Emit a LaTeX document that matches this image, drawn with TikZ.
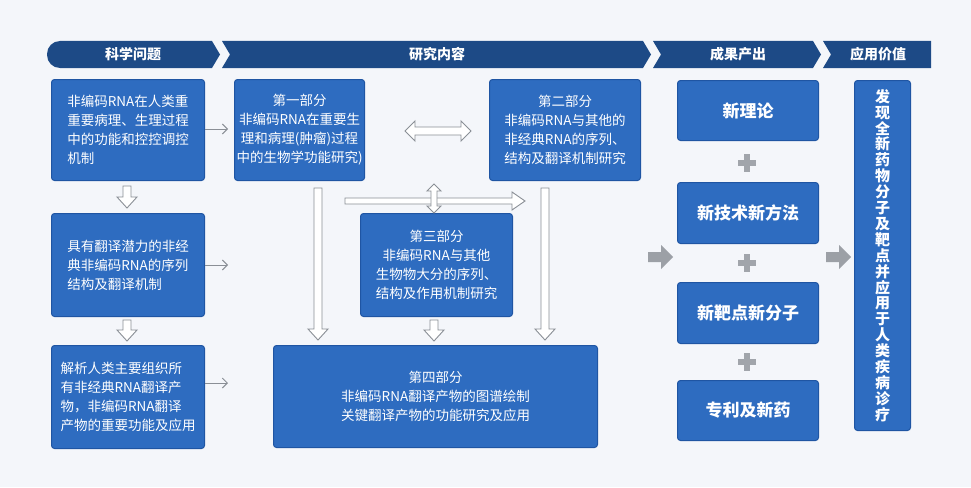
\documentclass[tikz,border=0pt]{standalone}
\usepackage{fontspec}
\setmainfont{Noto Sans CJK SC}
\usetikzlibrary{arrows.meta}
\definecolor{bx}{HTML}{2E6CC0}
\definecolor{bxd}{HTML}{1F55A3}
\definecolor{hd}{HTML}{1D4A86}
\definecolor{bg}{HTML}{F4F6FA}
\definecolor{ar}{HTML}{8A8F96}
\tikzset{
 box/.style={draw=bxd,line width=1pt,fill=bx,rounded corners=3pt,text=white,align=center,font=\fontsize{13.5}{19}\selectfont,inner sep=2pt},
 obox/.style={box,font=\fontsize{17}{18}\selectfont\bfseries},
 hol/.style={draw=ar,fill=white,line width=0.9pt,line join=miter},
 thin/.style={draw=ar,line width=1pt,-{Straight Barb[length=5pt,width=10pt]}},
 htext/.style={text=white,font=\fontsize{14}{16}\selectfont\bfseries}
}
\newcommand{\hdn}[3]{% x, ytop, ybottom
 \path[hol] (#1-4,#2)--(#1+4,#2)--(#1+4,#3-11)--(#1+10,#3-11)--(#1,#3)--(#1-10,#3-11)--(#1-4,#3-11)--cycle;}
\begin{document}
\begin{tikzpicture}[x=1pt,y=-1pt]
\useasboundingbox (0,0) rectangle (971,487);
\fill[bg] (0,0) rectangle (971,487);
% header
\fill[hd] (220,54.5)--(212,41)[rounded corners=13]--(47,41)--(47,68)[sharp corners]--(212,68)--cycle;
\fill[hd] (222,41)--(643,41)--(651,54.5)--(643,68)--(222,68)--(230,54.5)--cycle;
\fill[hd] (653,41)--(813,41)--(821,54.5)--(813,68)--(653,68)--(661,54.5)--cycle;
\fill[hd] (823,41)--(931,41)--(931,68)--(823,68)--(831,54.5)--cycle;
\node[htext] (h1) at (133,54.5) {科学问题};
\node[htext] (h2) at (437,54.5) {研究内容};
\node[htext] (h3) at (738,54.5) {成果产出};
\node[htext] (h4) at (878,54.5) {应用价值};
% left column
\node[box,minimum width=153pt,minimum height=101pt,align=left,anchor=north west] (a1) at (51,79) {非编码RNA在人类重\\重要病理、生理过程\\中的功能和控控调控\\机制};
\node[box,minimum width=153pt,minimum height=103pt,align=left,anchor=north west] (a2) at (51,213) {具有翻译潜力的非经\\典非编码RNA的序列\\结构及翻译机制};
\node[box,minimum width=153pt,minimum height=103pt,align=left,anchor=north west] (a3) at (51,345) {解析人类主要组织所\\有非经典RNA翻译产\\物，非编码RNA翻译\\产物的重要功能及应用};
% parts
\node[box,minimum width=126pt,minimum height=101pt,anchor=north west] (p1) at (234,79) {第一部分\\非编码RNA在重要生\\理和病理(肿瘤)过程\\中的生物学功能研究)};
\node[box,minimum width=151pt,minimum height=101pt,anchor=north west] (p2) at (489,79) {第二部分\\非编码RNA与其他的\\非经典RNA的序列、\\结构及翻译机制研究};
\node[box,minimum width=152pt,minimum height=103pt,anchor=north west] (p3) at (360,213) {第三部分\\非编码RNA与其他\\生物物大分的序列、\\结构及作用机制研究};
\node[box,minimum width=324pt,minimum height=102pt,anchor=north west] (p4) at (273,345) {第四部分\\非编码RNA翻译产物的图谱绘制\\关键翻译产物的功能研究及应用};
% outputs
\node[obox,minimum width=141pt,minimum height=60pt,anchor=north west] (o1) at (677,80) {新理论};
\node[obox,minimum width=141pt,minimum height=61pt,anchor=north west] (o2) at (677,182) {新技术新方法};
\node[obox,minimum width=141pt,minimum height=61pt,anchor=north west] (o3) at (677,282) {新靶点新分子};
\node[obox,minimum width=141pt,minimum height=60pt,anchor=north west] (o4) at (677,380) {专利及新药};
\node[box,minimum width=56pt,minimum height=350pt,anchor=north west,font=\fontsize{15}{15.9}\selectfont\bfseries] (v) at (854,80) {发\\现\\全\\新\\药\\物\\分\\子\\及\\靶\\点\\并\\应\\用\\于\\人\\类\\疾\\病\\诊\\疗};
% plus signs
\foreach \y/\n in {163/pl1,263/pl2,362/pl3}{
 \fill[ar!80] (744,\y-9) rectangle (750,\y+9);
 \fill[ar!80] (738,\y-3) rectangle (756,\y+3);
 \coordinate (\n) at (747,\y);}
% gray block arrows
\fill[ar!85] (648,252)--(661,252)--(661,245)--(673,257)--(661,269)--(661,262)--(648,262)--cycle;
\fill[ar!85] (826,252)--(839,252)--(839,245)--(851,257)--(839,269)--(839,262)--(826,262)--cycle;
% thin arrows
\draw[thin] (a1.east|-0,129) -- (228,129);
\draw[thin] (a2.east|-0,265) -- (228,265);
\draw[thin] (a3.east|-0,383) -- (228,383);
% hollow downs
\hdn{127}{186}{208}
\hdn{127}{320}{341}
\hdn{318}{188}{340}
\hdn{545}{188}{340}
\hdn{434}{320}{341}
% double horizontal P1<->P2
\path[hol] (405,131)--(415,121)--(415,127)--(461,127)--(461,121)--(471,131)--(461,141)--(461,135)--(415,135)--(415,141)--cycle;
% horizontal arrow to right
\path[hol] (345,198)--(512,198)--(512,192)--(525,201)--(512,210)--(512,204)--(345,204)--cycle;
% vertical double
\path[hol] (434,184)--(441,191)--(437,191)--(437,206)--(441,206)--(434,213)--(427,206)--(431,206)--(431,191)--(427,191)--cycle;
\end{tikzpicture}
\end{document}
